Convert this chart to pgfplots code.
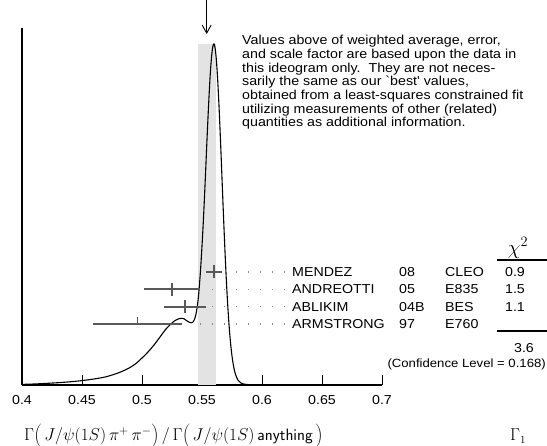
\documentclass[border=0pt]{standalone}
\usepackage{fontspec}
\setmainfont{Liberation Sans}
\newfontfamily\lab[FakeStretch=1.1]{Liberation Sans}
\usepackage{pgfplots}
\pgfplotsset{compat=1.18}
\usetikzlibrary{arrows.meta}
\definecolor{band}{gray}{0.89}
\definecolor{bar}{gray}{0.35}
\definecolor{dots}{gray}{0.55}
\begin{document}
\begin{tikzpicture}
\path[use as bounding box] (0,0) rectangle (547bp,446bp);
\begin{axis}[at={(22bp,61bp)}, anchor=south west, scale only axis,
  width=360bp, height=357bp, xmin=0.4, xmax=0.7, ymin=0, ymax=357,
  axis x line=bottom, axis y line=left,
  axis line style={-, line width=1.2bp, black},
  xtick={0.4,0.45,0.5,0.55,0.6,0.65,0.7},
  xticklabels={0.4,0.45,0.5,0.55,0.6,0.65,0.7},
  ytick=\empty, major tick length=10bp, tick align=inside,
  tick style={line width=0.8bp, black},
  xticklabel style={font=\lab\fontsize{13}{13}\selectfont, anchor=north, yshift=-7bp},
  clip=false]
% weighted average band
\addplot[fill=band, draw=none] coordinates {(0.5464,0) (0.5464,341) (0.5614,341) (0.5614,0)} -- cycle;
% ideogram curve
\addplot[black, line width=1.1bp, smooth] coordinates {
(0.400,0.6) (0.410,1.0) (0.420,1.6) (0.430,2.3) (0.440,3.2) (0.450,4.4)
(0.460,6.0) (0.470,8.2) (0.480,12.0) (0.485,14.5) (0.490,17.5) (0.495,21.5)
(0.500,27.0) (0.505,33.0) (0.510,40.0) (0.515,48.0) (0.520,56.0) (0.525,62.0)
(0.528,64.8) (0.531,66.3) (0.533,66.7) (0.535,66.2) (0.537,64.5) (0.539,63.0)
(0.540,62.5) (0.541,62.3) (0.542,62.6) (0.543,63.8) (0.544,66.5) (0.545,71.0)
(0.546,78.0) (0.547,88.0) (0.548,102.0) (0.549,119.0) (0.550,139.0) (0.551,161.0)
(0.552,186.0) (0.553,213.0) (0.554,241.0) (0.555,267.5) (0.556,292.0) (0.557,313.0)
(0.558,328.6) (0.559,338.3) (0.560,341.0) (0.561,336.3) (0.562,324.6) (0.563,306.5)
(0.564,283.4) (0.565,256.4) (0.566,227.0) (0.567,196.5) (0.568,166.5) (0.569,138.0)
(0.570,111.9) (0.571,88.9) (0.572,69.3) (0.573,52.8) (0.574,39.5) (0.575,28.9)
(0.576,20.9) (0.577,14.8) (0.578,10.3) (0.579,7.2) (0.580,4.9) (0.582,2.4)
(0.584,1.2) (0.586,0.7) (0.590,0.3) (0.600,0.1) (0.650,0.0) (0.700,0.0)};
% dotted guide lines
\addplot[dots, line width=1.3bp, dash pattern=on 1.3bp off 10.7bp] coordinates {(0.5783,113) (0.6195,113)};
\addplot[dots, line width=1.3bp, dash pattern=on 1.3bp off 10.7bp] coordinates {(0.5583,95.7) (0.6195,95.7)};
\addplot[dots, line width=1.3bp, dash pattern=on 1.3bp off 10.7bp] coordinates {(0.5583,78.3) (0.6195,78.3)};
\addplot[dots, line width=1.3bp, dash pattern=on 1.3bp off 10.7bp] coordinates {(0.5483,61) (0.6195,61)};
% measurements
\addplot[bar, only marks, mark=|, mark size=6.5bp, mark options={line width=1.1bp},
  error bars/.cd, x dir=both, x explicit, error mark=none,
  error bar style={line width=2bp, bar}]
  coordinates {(0.5600,113) +- (0.0064,0) (0.5250,95.7) +- (0.0233,0) (0.5358,78.3) +- (0.0175,0)};
\addplot[bar, only marks, mark=|, mark size=3.5bp, mark options={line width=1.1bp, yshift=3.5bp},
  error bars/.cd, x dir=both, x explicit, error mark=none,
  error bar style={line width=2bp, bar}]
  coordinates {(0.4963,61) +- (0.0371,0)};
% arrow marking the weighted average
\draw[line width=0.9bp, -{Straight Barb[length=8bp, width=9bp]}] (axis cs:0.5539,386) -- (axis cs:0.5539,351);
\end{axis}
% explanatory text
\begin{scope}[every node/.style={anchor=base west, inner sep=0pt, font=\lab\fontsize{13}{13}\selectfont}]
\node at (242bp,401.3bp) {Values above of weighted average, error,};
\node at (242bp,387.6bp) {and scale factor are based upon the data in};
\node at (242bp,373.9bp) {this ideogram only.\ \ They are not neces-};
\node at (242bp,360.2bp) {sarily the same as our `best' values,};
\node at (242bp,346.5bp) {obtained from a least-squares constrained fit};
\node at (242bp,332.8bp) {utilizing measurements of other (related)};
\node at (242bp,319.1bp) {quantities as additional information.};
% table
\node at (292bp,169.6bp) {MENDEZ};
\node at (292bp,152.0bp) {ANDREOTTI};
\node at (292bp,134.6bp) {ABLIKIM};
\node at (292bp,117.3bp) {ARMSTRONG};
\node at (399bp,169.6bp) {08};
\node at (399bp,152.0bp) {05};
\node at (399bp,134.6bp) {04B};
\node at (399bp,117.3bp) {97};
\node at (445bp,169.6bp) {CLEO};
\node at (445bp,152.0bp) {E835};
\node at (445bp,134.6bp) {BES};
\node at (445bp,117.3bp) {E760};
\end{scope}
\begin{scope}[every node/.style={anchor=base, inner sep=0pt, font=\lab\fontsize{13}{13}\selectfont}]
\node at (515bp,169.6bp) {0.9};
\node at (515bp,152.0bp) {1.5};
\node at (515bp,134.6bp) {1.1};
\node at (524bp,93.4bp) {3.6};
\end{scope}
\node[anchor=base east, inner sep=0pt, font=\lab\fontsize{12}{12}\selectfont] at (546bp,78bp) {(Confidence Level = 0.168)};
\node[anchor=center, inner sep=0pt, font=\fontsize{20}{20}\selectfont] at (518bp,198bp) {$\chi^2$};
\draw[line width=1.1bp] (497bp,186bp) -- (547bp,186bp);
\draw[line width=1.1bp] (497bp,115bp) -- (547bp,115bp);
% axis title
\node[anchor=west, inner sep=0pt, font=\fontsize{16.5}{16.5}\selectfont] at (24bp,10bp)
  {$\Gamma\biggl(\,J/\psi(1S)\,\pi^+\,\pi^-\biggr)\,/\,\Gamma\biggl(\,J/\psi(1S)\,\textsf{anything}\,\biggr)$};
\node[anchor=west, inner sep=0pt, font=\fontsize{16}{16}\selectfont] at (510bp,10bp) {$\Gamma_1$};
\end{tikzpicture}
\end{document}
